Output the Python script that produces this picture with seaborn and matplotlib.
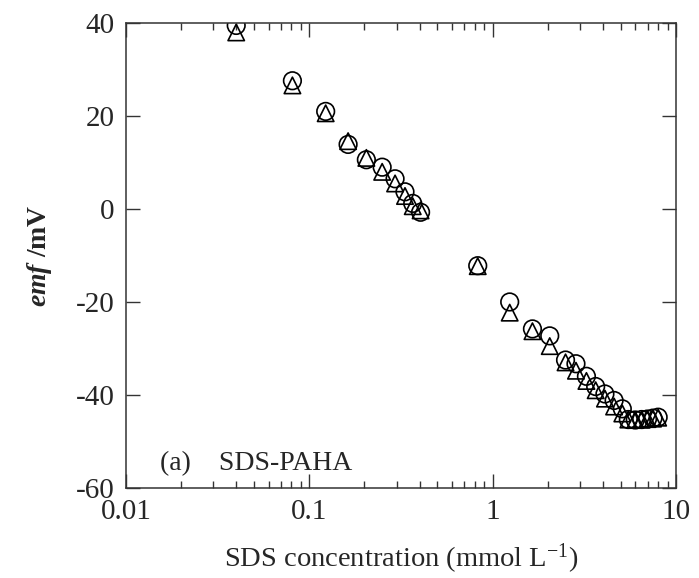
import pandas as pd
import matplotlib
matplotlib.use("Agg")
import matplotlib.pyplot as plt
import seaborn as sns
from matplotlib.ticker import LogLocator, FixedLocator, NullFormatter

# data (SDS concentration in mmol/L, emf in mV)
conc = [0.04, 0.081, 0.123, 0.163, 0.205, 0.25, 0.294, 0.333, 0.367, 0.405,
        0.83, 1.24, 1.65, 2.05, 2.5, 2.85, 3.25, 3.65, 4.1, 4.6,
        5.1, 5.5, 6.0, 6.5, 7.0, 7.5, 8.0]
emf_circle = [39.5, 27.6, 21.0, 13.9, 10.6, 9.0, 6.5, 3.7, 1.2, -0.7,
              -12.2, -20.0, -25.8, -27.3, -32.5, -33.3, -36.0, -38.2, -39.8, -41.2,
              -43.0, -45.3, -45.4, -45.3, -45.2, -45.0, -44.8]
emf_triangle = [38.0, 26.6, 20.6, 14.6, 11.0, 8.0, 5.5, 2.8, 0.6, -0.3,
                -12.3, -22.3, -26.3, -29.5, -33.0, -34.8, -37.0, -39.0, -40.8, -42.5,
                -44.0, -45.3, -45.4, -45.3, -45.2, -45.1, -44.9]

x_ticks = [0.01, 0.1, 1, 10]
x_ticklabels = ["0.01", "0.1", "1", "10"]
y_ticks = [-60, -40, -20, 0, 20, 40]

df_c = pd.DataFrame({"conc": conc, "emf": emf_circle})
df_t = pd.DataFrame({"conc": conc, "emf": emf_triangle})

sns.set_style("ticks")
plt.rcParams["font.family"] = ["Liberation Serif", "DejaVu Serif"]
plt.rcParams["axes.unicode_minus"] = False
plt.rcParams["mathtext.fontset"] = "custom"
plt.rcParams["mathtext.rm"] = "Liberation Serif"
plt.rcParams["mathtext.it"] = "Liberation Serif:italic:bold"

fig = plt.figure(figsize=(6.99, 5.78), dpi=100)
ax = fig.add_axes([0.180, 0.156, 0.787, 0.804])

sns.scatterplot(data=df_c, x="conc", y="emf", marker="o", s=160,
                facecolors="none", edgecolor="black", linewidth=1.2, ax=ax)
sns.scatterplot(data=df_t, x="conc", y="emf", marker="^", s=140,
                facecolors="none", edgecolor="black", linewidth=1.2, ax=ax)

ax.set_xscale("log")
ax.set_xlim(0.01, 10)
ax.set_ylim(-60, 40)
ax.xaxis.set_major_locator(FixedLocator(x_ticks))
ax.set_xticklabels(x_ticklabels)
ax.xaxis.set_minor_locator(LogLocator(base=10, subs=range(2, 10)))
ax.xaxis.set_minor_formatter(NullFormatter())
ax.set_yticks(y_ticks)

for s in ax.spines.values():
    s.set_linewidth(1.1)
    s.set_color("#333333")
ax.tick_params(which="both", direction="in", top=True, right=True,
               labelsize=21, color="#333333", width=1.0)
ax.tick_params(which="major", length=10, pad=8)
ax.tick_params(which="minor", length=5)

ax.set_xlabel(r"SDS concentration (mmol L$^{\mathregular{-1}}$)", fontsize=20.5, labelpad=12)
ax.set_ylabel(r"$emf$ /mV", fontsize=20, fontweight="bold", labelpad=16)

ax.text(0.062, 0.025, "(a)    SDS-PAHA", transform=ax.transAxes,
        fontsize=20, va="bottom", ha="left")

plt.savefig("out.png", dpi=100)
